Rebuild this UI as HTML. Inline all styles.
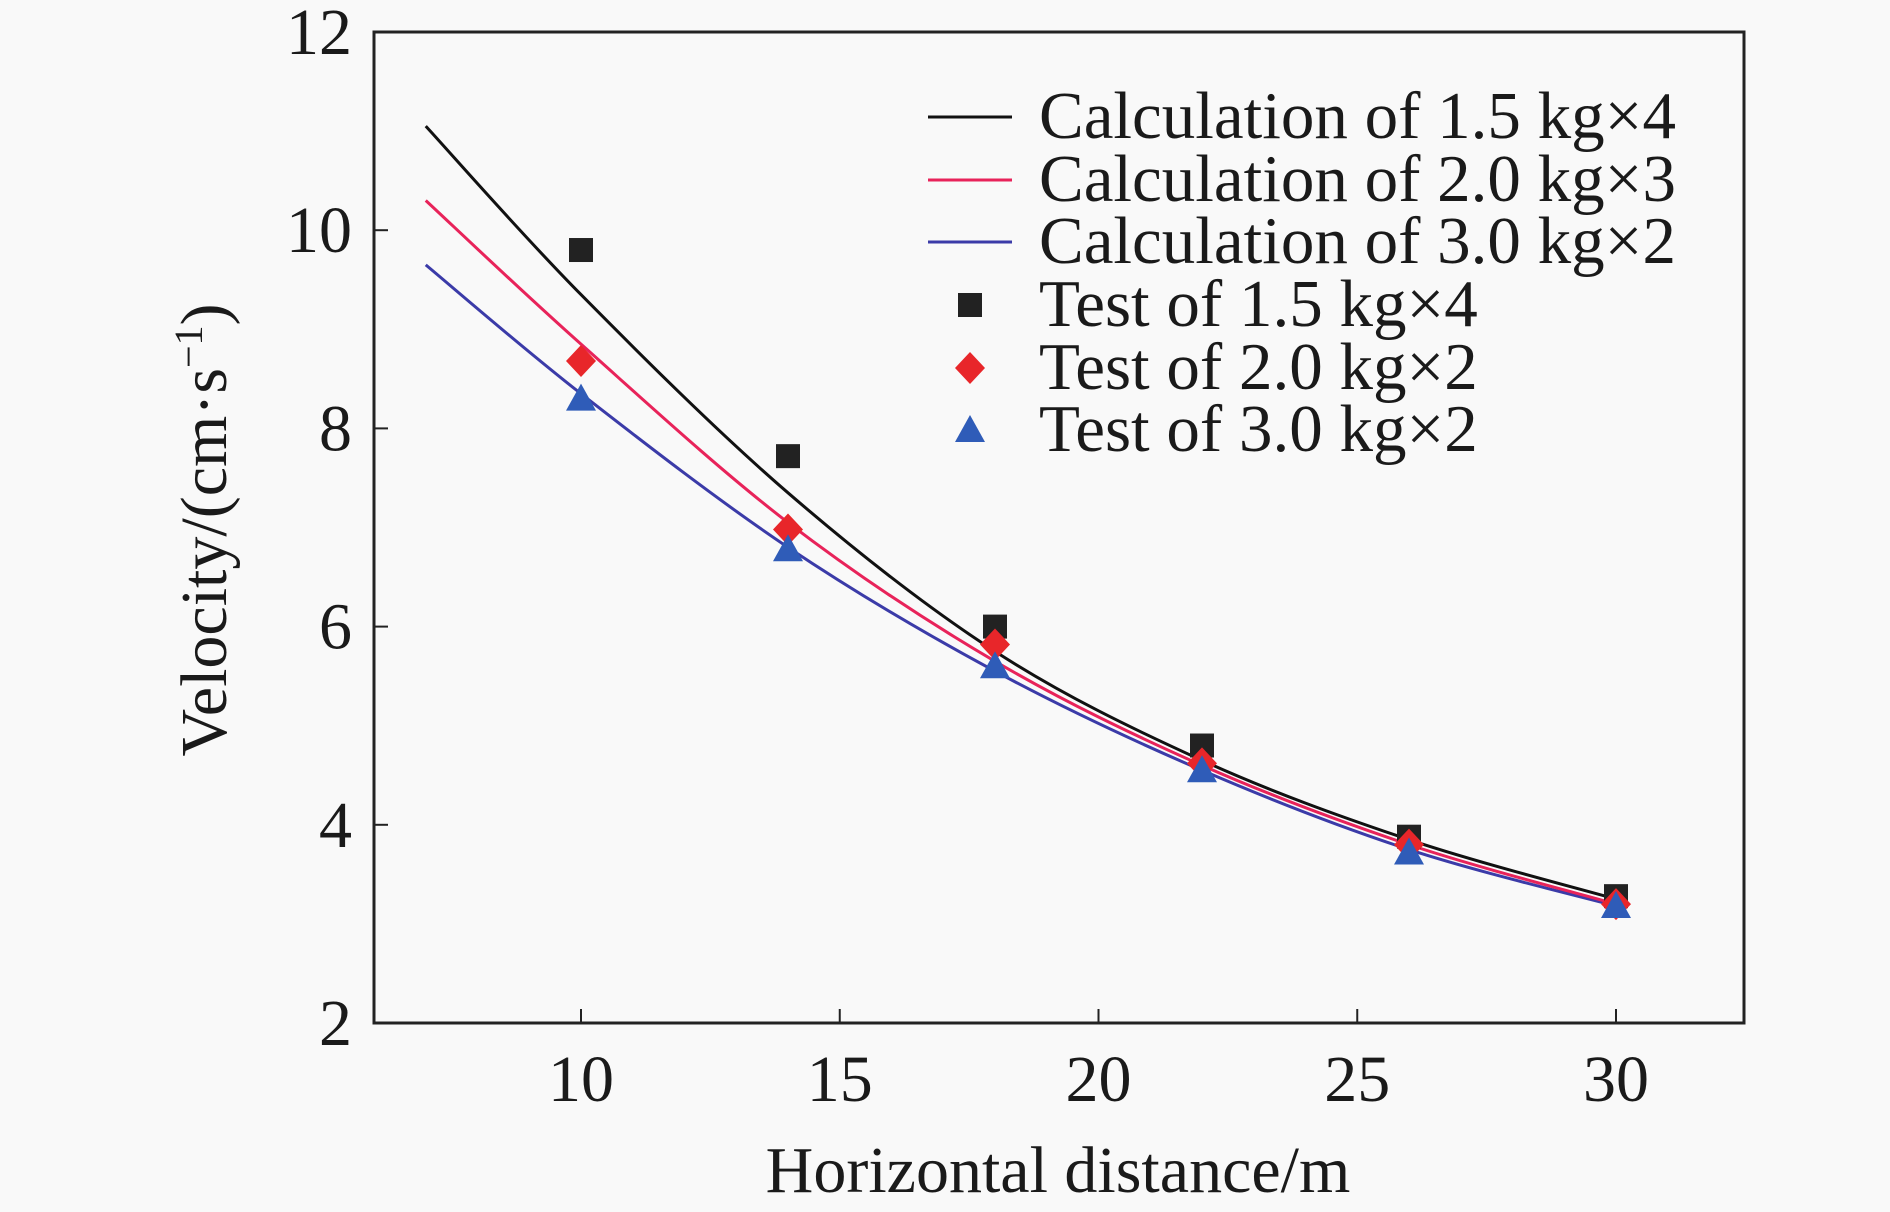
<!DOCTYPE html>
<html><head><meta charset="utf-8"><style>
html,body{margin:0;padding:0;background:#f9f9f9}
svg{display:block}
text{font-family:"Liberation Serif",serif;fill:#1a1a1a}
</style></head><body>
<svg id="chart" width="1890" height="1212" viewBox="0 0 1890 1212"></svg>
<script>
const calcX=[7,10,14,18,22,26,30];
const calc15=[11.05,9.35,7.35,5.75,4.65,3.85,3.25];
const calc20=[10.3,8.85,7.05,5.65,4.6,3.8,3.2];
const calc30=[9.65,8.35,6.8,5.55,4.55,3.75,3.18];
const testX=[10,14,18,22,26,30];
const test15=[9.8,7.72,6.0,4.8,3.88,3.28];
const test20=[8.68,6.98,5.82,4.62,3.8,3.2];
const test30=[8.3,6.78,5.6,4.55,3.72,3.18];
const xTicks=[10,15,20,25,30];
const yTicks=[2,4,6,8,10,12];
const legendLabels=["Calculation of 1.5 kg×4","Calculation of 2.0 kg×3","Calculation of 3.0 kg×2","Test of 1.5 kg×4","Test of 2.0 kg×2","Test of 3.0 kg×2"];

const NS="http://www.w3.org/2000/svg";
const svg=document.getElementById('chart');
const L=374,R=1744,T=32,B=1023;
const sx=v=>581+(v-10)*51.75;
const sy=v=>T+(12-v)*(B-T)/10;
function mk(tag,attrs,parent){const e=document.createElementNS(NS,tag);for(const k in attrs)e.setAttribute(k,attrs[k]);(parent||svg).appendChild(e);return e;}

const frame=mk('rect',{x:L,y:T,width:R-L,height:B-T,fill:'none',stroke:'#222','stroke-width':3});



xTicks.forEach(v=>{
  const t=mk('line',{x1:sx(v),x2:sx(v),y1:B,y2:B-14,stroke:'#222','stroke-width':2});
  
  
  const l=mk('text',{x:sx(v),y:B+78,'text-anchor':'middle','font-size':66});
  l.textContent=v;
  
  
});
yTicks.forEach(v=>{
  const t=mk('line',{x1:L,x2:L+14,y1:sy(v),y2:sy(v),stroke:'#222','stroke-width':2});
  
  
  const l=mk('text',{x:L-22,y:sy(v)+22,'text-anchor':'end','font-size':66});
  l.textContent=v;
  
  
});
const xt=mk('text',{x:1058,y:1192,'text-anchor':'middle','font-size':66});
xt.textContent='Horizontal distance/m';


const yt=mk('text',{x:0,y:0,'text-anchor':'middle','font-size':66,transform:'translate(226,530) rotate(-90)'});
yt.innerHTML='Velocity/(cm·s<tspan dy="-24" font-size="40">−1</tspan><tspan dy="24">)</tspan>';



function curvePath(xs,ys){
  const p=xs.map((x,i)=>[sx(x),sy(ys[i])]);
  let d=`M${p[0][0]},${p[0][1]}`;
  for(let i=0;i<p.length-1;i++){
    const p0=p[i-1]||p[i],p1=p[i],p2=p[i+1],p3=p[i+2]||p2;
    const c1=[p1[0]+(p2[0]-p0[0])/6,p1[1]+(p2[1]-p0[1])/6];
    const c2=[p2[0]-(p3[0]-p1[0])/6,p2[1]-(p3[1]-p1[1])/6];
    d+=` C${c1[0]},${c1[1]} ${c2[0]},${c2[1]} ${p2[0]},${p2[1]}`;
  }
  return d;
}
const curves=[[calc30,'#3b3ba8','calc-3-0kg-line'],[calc20,'#e8235a','calc-2-0kg-line'],[calc15,'#111','calc-1-5kg-line']];
curves.forEach(([ys,c,n])=>{
  const p=mk('path',{d:curvePath(calcX,ys),fill:'none',stroke:c,'stroke-width':3});
  
  
});
function square(x,y){return mk('rect',{x:x-12,y:y-12,width:24,height:24,fill:'#222'});}
function diamond(x,y){return mk('polygon',{points:`${x},${y-16} ${x+15},${y} ${x},${y+16} ${x-15},${y}`,fill:'#e8262a'});}
function tri(x,y){return mk('polygon',{points:`${x},${y-15} ${x+15},${y+12} ${x-15},${y+12}`,fill:'#2f5cb8'});}
testX.forEach((x,i)=>{
  const a=square(sx(x),sy(test15[i]));
  
  
  const b=diamond(sx(x),sy(test20[i]));
  
  
  const c=tri(sx(x),sy(test30[i]));
  
  
});
const rows=[117,180,242,305,368,430];
const lc=['#111','#e8235a','#3b3ba8'];
rows.forEach((y,i)=>{
  if(i<3){
    const l=mk('line',{x1:928,x2:1012,y1:y,y2:y,stroke:lc[i],'stroke-width':3});
    
    
  }else{
    const m=[square,diamond,tri][i-3](970,y);
    
    
  }
  const t=mk('text',{x:1039,y:y+21,'font-size':67});
  t.textContent=legendLabels[i];
  
  
});
</script>
</body></html>
